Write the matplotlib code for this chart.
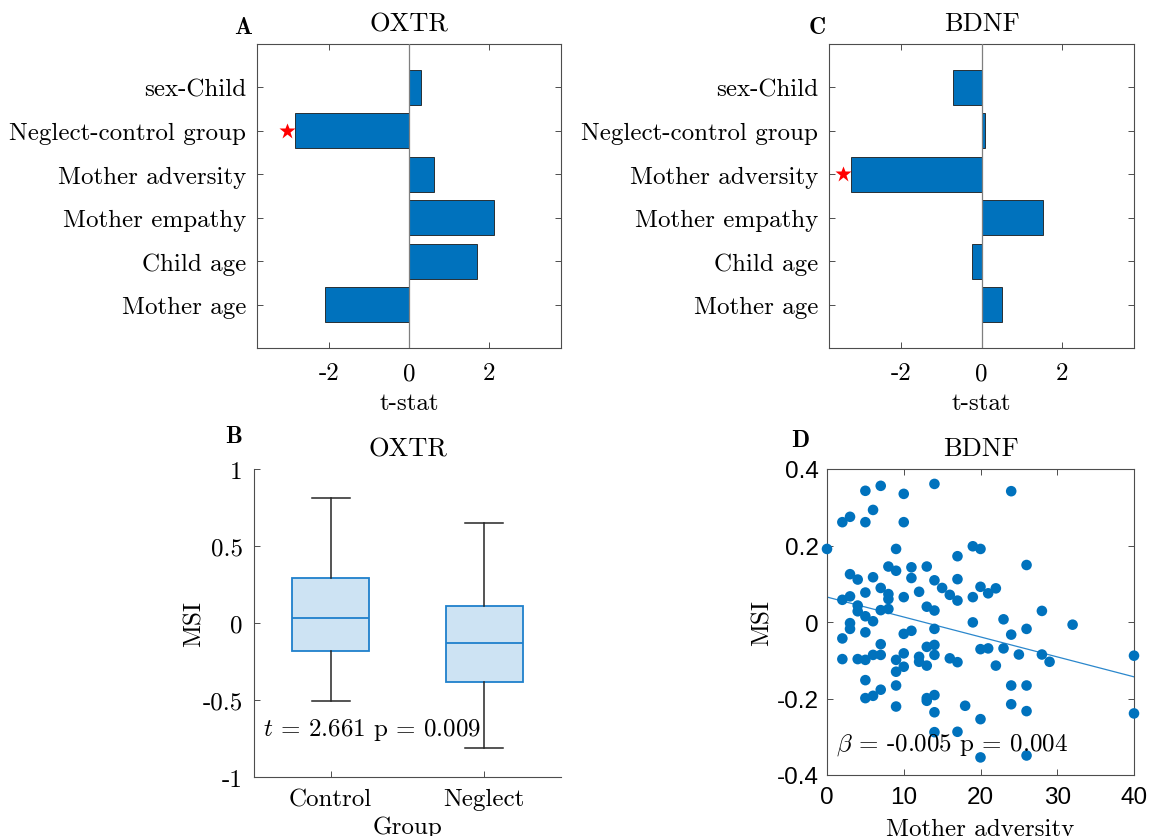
import matplotlib.pyplot as plt
import numpy as np
from matplotlib.ticker import FuncFormatter

plt.rcParams['font.family'] = ['cmr10', 'DejaVu Serif']
plt.rcParams['mathtext.fontset'] = 'cm'
plt.rcParams['axes.unicode_minus'] = False
plt.rcParams['axes.formatter.use_mathtext'] = False

# regression t-stats (bottom to top)
predictors = ['Mother age', 'Child age', 'Mother empathy', 'Mother adversity',
              'Neglect-control group', 'sex-Child']
oxtr_t = [-2.09, 1.69, 2.13, 0.63, -2.84, 0.31]
bdnf_t = [0.50, -0.23, 1.53, -3.24, 0.08, -0.71]
oxtr_sig = [False, False, False, False, True, False]
bdnf_sig = [False, False, False, True, False, False]

# boxplot summary (OXTR MSI by group)
groups = ['Control', 'Neglect']
box_whislo = [-0.508, -0.814]
box_q1 = [-0.184, -0.381]
box_med = [0.03, -0.132]
box_q3 = [0.29, 0.112]
box_whishi = [0.81, 0.649]
oxtr_stat_text = r'$t$ = 2.661 p = 0.009'

# BDNF MSI vs mother adversity
adversity = [0,
             2, 2, 2, 2,
             3, 3, 3, 3, 3,
             4, 4, 4, 4,
             5, 5, 5, 5, 5, 5, 5, 5,
             6, 6, 6, 6, 6,
             7, 7, 7, 7, 7, 7,
             8, 8, 8, 8,
             9, 9, 9, 9, 9, 9,
             10, 10, 10, 10, 10, 10,
             11, 11, 11,
             12, 12, 12,
             13, 13, 13, 13, 13, 13,
             14, 14, 14, 14, 14, 14, 14, 14, 14,
             15,
             16, 16,
             17, 17, 17, 17, 17,
             18,
             19, 19, 19,
             20, 20, 20, 20, 20,
             21, 21,
             22, 22,
             23, 23,
             24, 24, 24, 24,
             25,
             26, 26, 26, 26, 26,
             28, 28,
             29,
             32,
             40, 40]
msi = [0.191,
       0.261, 0.058, -0.043, -0.097,
       0.275, 0.125, 0.067, -0.003, -0.018,
       0.111, 0.043, 0.028, -0.097,
       0.343, 0.261, 0.077, 0.015, -0.027, -0.099, -0.152, -0.199,
       0.293, 0.117, 0.002, -0.086, -0.193,
       0.356, 0.089, 0.031, -0.058, -0.086, -0.177,
       0.145, 0.073, 0.060, 0.034,
       0.191, 0.134, -0.099, -0.130, -0.166, -0.221,
       0.335, 0.261, 0.065, -0.031, -0.082, -0.117,
       0.143, 0.115, -0.023,
       0.079, -0.091, -0.104,
       0.145, 0.040, -0.065, -0.114, -0.199, -0.206,
       0.361, 0.109, 0.030, -0.018, -0.060, -0.086, -0.191, -0.236, -0.288,
       0.089,
       0.071, -0.095,
       0.172, 0.112, 0.056, -0.105, -0.287,
       -0.219,
       0.198, 0.065, -0.001,
       0.191, 0.092, -0.071, -0.254, -0.354,
       0.075, -0.069,
       0.088, -0.114,
       0.007, -0.069,
       0.342, -0.033, -0.166, -0.215,
       -0.085,
       0.149, -0.018, -0.166, -0.233, -0.349,
       0.029, -0.085,
       -0.104,
       -0.007,
       -0.088, -0.239]
bdnf_stat_text = r'$\beta$ = -0.005 p = 0.004'

blue = '#0072BD'
axcol = '#4d4d4d'
W, H = 1149, 837
fig = plt.figure(figsize=(W / 100, H / 100), dpi=100)


def px_axes(l, t, r, b):
    return fig.add_axes([l / W, 1 - b / H, (r - l) / W, (b - t) / H])


def style(ax, box=True, xpad=10, ypad=8):
    for s in ax.spines.values():
        s.set_color(axcol)
        s.set_linewidth(0.8)
    if not box:
        ax.spines['top'].set_visible(False)
        ax.spines['right'].set_visible(False)
    ax.tick_params(direction='in', length=4, width=0.7, color=axcol,
                   top=box, right=box, labelsize=18)
    ax.tick_params(axis='x', pad=xpad)
    ax.tick_params(axis='y', pad=ypad)


def bar_panel(ax, tvals, sig, title):
    y = np.arange(1, len(predictors) + 1)
    ax.barh(y, tvals, height=0.8, color=blue, edgecolor='#1a1a1a', linewidth=0.6,
            zorder=2)
    ax.axvline(0, color='#7f7f7f', lw=0.9, zorder=3)
    for yi, t, s in zip(y, tvals, sig):
        if s:
            ax.plot(t + 0.2 * np.sign(t), yi, marker='*', color='red', ms=12,
                    mec='none', zorder=4)
    ax.set_xlim(-3.8, 3.8)
    ax.set_ylim(0, 7)
    ax.set_xticks([-2, 0, 2])
    ax.set_yticks(y)
    ax.set_yticklabels(predictors)
    ax.set_xlabel('t-stat', fontsize=18, labelpad=6)
    ax.set_title(title, fontsize=19, pad=10)
    style(ax)


axA = px_axes(257, 45, 561, 349)
bar_panel(axA, oxtr_t, oxtr_sig, 'OXTR')
axC = px_axes(829, 45, 1134, 349)
bar_panel(axC, bdnf_t, bdnf_sig, 'BDNF')

# panel B
axB = px_axes(254, 470, 561, 778)
stats = [dict(whislo=a, q1=b, med=c, q3=d, whishi=e, fliers=[], label=g)
         for a, b, c, d, e, g in zip(box_whislo, box_q1, box_med, box_q3,
                                     box_whishi, groups)]
axB.bxp(stats, positions=[1, 2], widths=0.5, patch_artist=True,
        boxprops=dict(facecolor='#cde3f3', edgecolor='#1f80cc', linewidth=1.3),
        medianprops=dict(color='#1f80cc', linewidth=1.3),
        whiskerprops=dict(color='#262626', linewidth=1.1),
        capprops=dict(color='#262626', linewidth=1.1), capwidths=0.25)
axB.set_xlim(0.5, 2.5)
axB.set_ylim(-1, 1)
axB.set_yticks([-1, -0.5, 0, 0.5, 1])
axB.yaxis.set_major_formatter(FuncFormatter(lambda v, p: '%g' % v))
axB.set_xlabel('Group', fontsize=18, labelpad=4)
axB.set_ylabel('MSI', fontsize=18, labelpad=-2)
axB.set_title('OXTR', fontsize=19, pad=10)
axB.text(0.56, -0.69, oxtr_stat_text, fontsize=18, va='center', ha='left')
style(axB, box=False, xpad=8)

# panel D
axD = px_axes(827, 470, 1134, 776)
xs = np.array(adversity, float)
ys = np.array(msi)
axD.scatter(xs, ys, s=58, color=blue, edgecolors='none', zorder=3, clip_on=False)
k, c0 = np.polyfit(xs, ys, 1)
xl = np.array([0, 40])
axD.plot(xl, c0 + k * xl, color='#2b87cc', lw=0.9, zorder=2)
axD.set_xlim(0, 40)
axD.set_ylim(-0.4, 0.4)
axD.set_xticks([0, 10, 20, 30, 40])
axD.set_yticks([-0.4, -0.2, 0, 0.2, 0.4])
axD.yaxis.set_major_formatter(FuncFormatter(lambda v, p: '%g' % v))
axD.set_xlabel('Mother adversity', fontsize=18, labelpad=7)
axD.set_ylabel('MSI', fontsize=18, labelpad=2)
axD.set_title('BDNF', fontsize=19, pad=10)
axD.text(1.2, -0.32, bdnf_stat_text, fontsize=18, va='center', ha='left')
style(axD, xpad=8, ypad=6)
for lab in axD.get_xticklabels() + axD.get_yticklabels():
    lab.set_family('Liberation Sans')
    lab.set_fontsize(17.5)

# panel letters
for letter, x, y in [('A', 243, 28), ('C', 817, 28), ('B', 234, 437), ('D', 800, 441)]:
    fig.text(x / W, 1 - y / H, letter, family='cmb10', fontsize=17,
             ha='center', va='center')

fig.savefig('out.png', dpi=100)
